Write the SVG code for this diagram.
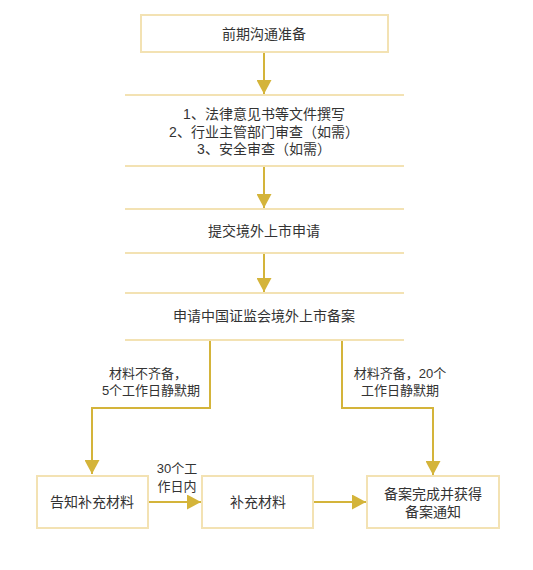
<svg xmlns="http://www.w3.org/2000/svg" width="533" height="570" viewBox="0 0 533 570">
<style>
.box{fill:#fff;stroke:#F3E2B3;stroke-width:2}
.ln{stroke:#F3E2B3;stroke-width:2}
.edge{fill:none;stroke:#D4B43A;stroke-width:2}
text{font-family:"Liberation Sans","Noto Sans CJK SC",sans-serif;font-size:14px;fill:#333;text-anchor:middle;dominant-baseline:central}
.lbl{font-size:13px}
</style>
<defs>
<marker id="ah" viewBox="0 0 14 15" refX="14" refY="7.5" markerWidth="14" markerHeight="15" markerUnits="userSpaceOnUse" orient="auto">
<path d="M0,0 L14,7.5 L0,15 Z" fill="#D4B43A"/>
</marker>
</defs>
<rect width="533" height="570" fill="#fff"/>
<g id="connectors">
<path class="edge" d="M264,53 V94" marker-end="url(#ah)"/>
<path class="edge" d="M264,167 V208" marker-end="url(#ah)"/>
<path class="edge" d="M264,254 V292" marker-end="url(#ah)"/>
<path class="edge" d="M210,341 V408 H92 V474" marker-end="url(#ah)"/>
<path class="edge" d="M342,341 V408 H433 V475" marker-end="url(#ah)"/>
<path class="edge" d="M149,502 H201" marker-end="url(#ah)"/>
<path class="edge" d="M314,502 H366" marker-end="url(#ah)"/>
<text class="lbl" x="148" y="373">材料不齐备，</text>
<text class="lbl" x="151" y="390">5个工作日静默期</text>
<text class="lbl" x="400" y="373">材料齐备，20个</text>
<text class="lbl" x="400" y="390">工作日静默期</text>
<text class="lbl" x="177" y="468">30个工</text>
<text class="lbl" x="177" y="486">作日内</text>
</g>
<g id="n1">
<rect class="box" x="141" y="15" width="247" height="37"/>
<text x="264" y="34">前期沟通准备</text>
</g>
<g id="n2">
<line class="ln" x1="125" y1="95" x2="404" y2="95"/>
<line class="ln" x1="125" y1="166" x2="404" y2="166"/>
<text x="264" y="114">1、法律意见书等文件撰写</text>
<text x="264" y="131.5">2、行业主管部门审查（如需）</text>
<text x="264" y="149">3、安全审查（如需）</text>
</g>
<g id="n3">
<line class="ln" x1="125" y1="209" x2="404" y2="209"/>
<line class="ln" x1="125" y1="253" x2="404" y2="253"/>
<text x="264" y="231">提交境外上市申请</text>
</g>
<g id="n4">
<line class="ln" x1="125" y1="293" x2="404" y2="293"/>
<line class="ln" x1="125" y1="340" x2="404" y2="340"/>
<text x="264" y="316">申请中国证监会境外上市备案</text>
</g>
<g id="n5">
<rect class="box" x="37" y="476" width="111" height="52"/>
<text x="92" y="502">告知补充材料</text>
</g>
<g id="n6">
<rect class="box" x="202" y="476" width="111" height="52"/>
<text x="258" y="502">补充材料</text>
</g>
<g id="n7">
<rect class="box" x="367" y="476" width="132" height="52"/>
<text x="433" y="494">备案完成并获得</text>
<text x="433" y="512">备案通知</text>
</g>
</svg>
